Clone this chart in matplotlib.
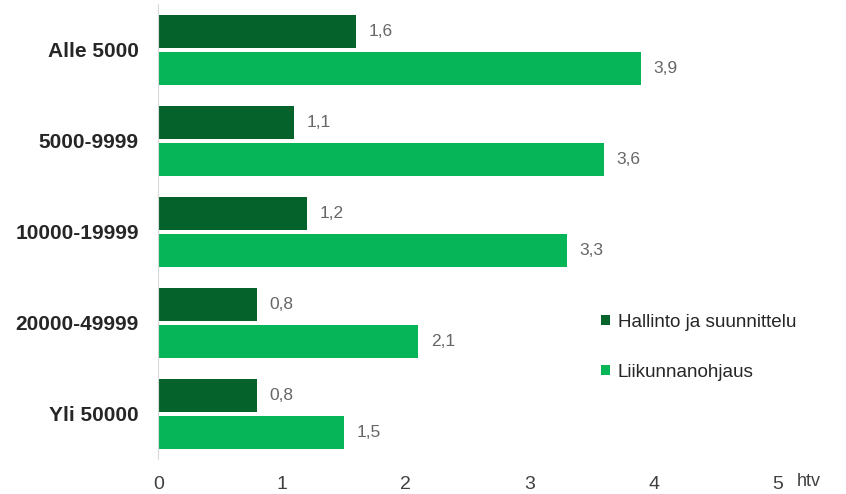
import numpy as np
import matplotlib.pyplot as plt

# tiedot
ryhmat = ["Alle 5000", "5000-9999", "10000-19999", "20000-49999", "Yli 50000"]
hallinto = [1.6, 1.1, 1.2, 0.8, 0.8]
liikunta = [3.9, 3.6, 3.3, 2.1, 1.5]
sarjat = ["Hallinto ja suunnittelu", "Liikunnanohjaus"]
xticks = [0, 1, 2, 3, 4, 5]

tumma = "#04622A"
vaalea = "#05B558"

plt.rcParams["font.family"] = ["Liberation Sans", "DejaVu Sans"]

fig = plt.figure(figsize=(8.46, 4.94), dpi=100)
ax = fig.add_axes([0.187, 0.07, 0.732, 0.921])

y = np.arange(len(ryhmat))
h = 0.365
b1 = ax.barh(y - 0.2, hallinto, height=h, color=tumma, label=sarjat[0])
b2 = ax.barh(y + 0.2, liikunta, height=h, color=vaalea, label=sarjat[1])

for bars in (b1, b2):
    for r in bars:
        v = r.get_width()
        ax.annotate(f"{v:.1f}".replace(".", ","), (v, r.get_y() + r.get_height() / 2),
                    xytext=(9, 0), textcoords="offset points", va="center", ha="left",
                    fontsize=12.5, color="#666666")

ax.set_ylim(len(ryhmat) - 0.5, -0.5)
ax.set_xlim(0, 5)
ax.set_yticks(y)
ax.set_yticklabels(ryhmat, fontsize=15, fontweight="bold", color="#262626")
ax.set_xticks(xticks)
ax.set_xticklabels([str(t) for t in xticks], fontsize=14, color="#404040")
ax.tick_params(axis="both", length=0)
ax.tick_params(axis="y", pad=14)
ax.tick_params(axis="x", pad=12)

for s in ["top", "right", "bottom"]:
    ax.spines[s].set_visible(False)
ax.spines["left"].set_color("#D9D9D9")

ax.annotate("htv", xy=(1, 0), xycoords="axes fraction", xytext=(14, -16),
            textcoords="offset points", fontsize=13, color="#404040", va="center")

fig.legend(handles=[b1, b2], loc="center left", bbox_to_anchor=(0.69, 0.297),
           frameon=False, fontsize=13.6, handlelength=0.5, handleheight=0.5,
           handletextpad=0.4, labelspacing=1.75, labelcolor="#262626")

fig.savefig("out.png", dpi=100)
